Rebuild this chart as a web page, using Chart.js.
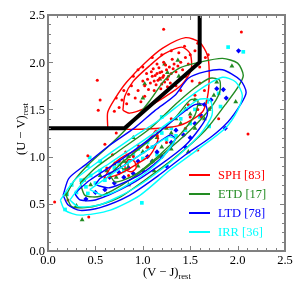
<!DOCTYPE html>
<html>
<head>
<meta charset="utf-8">
<script src="https://cdn.jsdelivr.net/npm/chart.js@4.4.0/dist/chart.umd.min.js"></script>
<style>
  body { margin: 0; background: #fff; }
  canvas { display: block; }
</style>
</head>
<body>
<canvas id="uvj" width="300" height="300"></canvas>
<script>
// Axis ticks
const tickValues = [0.0, 0.5, 1.0, 1.5, 2.0, 2.5];
const tickLabels = ['0.0', '0.5', '1.0', '1.5', '2.0', '2.5'];

// UVJ quiescent selection boundary
const uvjBoundary = [[0, 1.3], [0.807, 1.3], [1.6, 2.0], [1.6, 2.5]];

// Legend
const classNames = ['SPH [83]', 'ETD [17]', 'LTD [78]', 'IRR [36]'];
const classColors = ['#ff0000', '#228b22', '#0000ff', '#00ffff'];

// Points (V-J, U-V)
const sphPoints = [
  [1.10,1.85],[1.12,1.80],[1.15,1.88],[1.18,1.83],[1.20,1.90],[1.22,1.86],[1.25,1.92],[1.14,1.76],
  [1.08,1.78],[1.05,1.82],[1.17,1.94],[1.23,1.79],[1.27,1.85],[1.30,1.88],[1.19,1.72],[1.12,1.70],
  [1.09,1.90],[1.24,1.97],[1.28,1.95],[1.32,1.93],[1.16,1.81],[1.21,1.84],[1.13,1.86],[1.26,1.82],
  [1.02,1.75],[1.06,1.71],[1.15,1.98],[1.35,1.90],[1.33,1.98],[1.29,1.78],[1.11,1.93],[1.18,1.89],
  [1.00,1.80],[1.04,1.88],[1.20,1.77],[1.37,1.96],[1.40,2.00],[1.31,2.03],[1.22,2.00],[1.26,1.74],
  [0.95,1.70],[0.92,1.62],[0.98,1.58],[1.02,1.64],[0.88,1.75],[0.90,1.85],[0.85,1.66],[0.83,1.56],
  [0.78,1.60],[0.80,1.70],[0.75,1.52],[0.70,1.48],[0.72,1.62],[1.42,1.92],[1.45,2.05],[1.48,1.98],
  [1.50,2.08],[1.38,2.10],[1.30,2.12],[1.20,2.08],[1.55,2.12],[1.10,2.05],[1.00,1.95],[0.95,1.92],
  [1.35,1.75],[1.45,1.85],[1.40,1.70],[1.52,1.80],[1.60,1.78],[1.65,1.70],[1.55,1.65],[1.48,1.55],
  [1.58,1.50],[1.62,1.42],[1.50,1.42],[1.45,1.30],[1.60,1.95],[1.66,2.05],[1.69,2.08],[1.58,2.20],
  [1.44,2.17],[0.52,1.81],[0.55,1.60],[0.53,1.49],[0.60,1.13],[0.72,1.25],[1.22,2.35],[2.04,2.32],
  [2.11,1.24],[0.07,0.52],[0.21,0.54],[0.43,0.36],[0.42,1.01],[1.58,1.07],[0.68,1.30],[0.82,1.05],
  [0.90,1.00],[0.95,1.12],[1.05,1.10],[1.15,1.22],[0.75,0.95],[0.62,0.88],[0.85,0.80],[1.30,1.40],
  [1.25,1.15],[0.68,1.02],[1.72,1.52],[1.80,1.40]
];
const etdPoints = [
  [0.36,0.33],[0.19,0.60],[0.38,0.75],[0.30,0.48],[0.45,0.70],[0.55,0.80],[0.62,0.85],[0.70,0.92],
  [0.72,0.78],[0.80,0.95],[0.85,1.00],[0.95,0.90],[1.00,1.05],[1.05,1.10],[1.10,0.95],[1.15,1.20],
  [1.20,1.10],[1.25,1.30],[1.30,1.25],[1.35,1.40],[1.40,1.35],[1.45,1.50],[1.50,1.45],[1.55,1.60],
  [1.60,1.55],[1.65,1.40],[1.78,1.79],[1.94,1.96],[1.98,1.58],[1.75,1.65],[1.23,1.98],[1.18,1.82],
  [1.38,1.85],[1.02,1.77],[0.90,1.20],[1.55,1.30],[1.48,1.05],[0.62,0.60],[0.85,0.70],[1.12,0.85],
  [1.30,1.08],[1.70,1.50],[1.00,1.62],[1.37,2.02],[1.26,1.89]
];
const ltdPoints = [
  [2.01,2.12],[1.85,1.71],[1.88,1.62],[1.87,1.30],[1.61,1.44],[1.43,1.23],[1.45,1.10],[1.30,1.15],
  [1.20,1.00],[1.10,0.95],[1.00,0.85],[0.90,0.82],[0.80,0.78],[0.70,0.72],[0.60,0.65],[0.50,0.62],
  [0.40,0.55],[1.55,1.35],[1.65,1.55],[1.72,1.60],[1.35,1.28],[1.15,1.05],[0.95,0.95],[0.85,0.88],
  [0.75,0.83],[1.25,0.90],[1.50,1.20],[0.65,0.78],[1.05,1.00],[1.78,1.72]
];
const irrPoints = [
  [1.90,2.16],[2.06,2.11],[0.18,0.44],[0.99,0.51],[1.80,1.67],[1.82,1.53],[1.70,1.32],[0.20,0.60],
  [0.30,0.62],[0.40,0.68],[0.45,0.80],[0.50,0.72],[0.55,0.85],[0.60,0.75],[0.65,0.82],[0.70,0.88],
  [0.75,0.92],[0.80,0.85],[0.85,0.95],[0.90,1.02],[0.95,1.08],[1.00,0.98],[1.05,1.15],[1.10,1.10],
  [1.15,1.02],[1.20,1.25],[1.25,1.18],[1.30,1.30],[1.35,1.22],[1.40,1.40],[1.50,1.35],[1.55,1.50],
  [1.60,1.42],[1.68,1.58],[0.42,0.90],[0.35,0.75],[0.55,0.95],[1.45,1.28],[0.25,0.70],[1.20,1.42],
  [0.44,0.99],[0.42,0.61]
];

// Density contours (closed loops)
const sphContours = [
  [[0.63,1.31],[0.63,1.47],[0.71,1.62],[0.83,1.79],[1.02,1.99],[1.21,2.15],[1.45,2.26],[1.60,2.21],
   [1.68,2.08],[1.70,1.92],[1.69,1.68],[1.64,1.49],[1.55,1.41],[1.39,1.33],[1.18,1.30],[0.97,1.29],
   [0.76,1.29],[0.65,1.30]],
  [[0.79,1.49],[0.81,1.64],[0.90,1.80],[1.08,1.97],[1.23,2.09],[1.41,2.16],[1.50,2.09],[1.51,1.92],
   [1.41,1.76],[1.23,1.63],[1.02,1.51],[0.86,1.46]],
  [[0.59,0.77],[0.68,0.91],[0.81,1.01],[0.97,1.09],[1.08,1.20],[1.14,1.28],[1.16,1.18],[1.08,1.02],
   [0.92,0.91],[0.74,0.81]],
  [[0.81,0.91],[0.85,0.97],[0.91,0.95],[0.93,0.88],[0.88,0.84],[0.82,0.86]]
];
const etdContours = [
  [[0.19,0.59],[0.25,0.47],[0.39,0.46],[0.55,0.49],[0.76,0.57],[1.02,0.75],[1.34,0.99],[1.66,1.28],
   [1.87,1.55],[2.00,1.73],[2.06,1.86],[2.00,1.99],[1.84,2.04],[1.60,2.00],[1.39,1.94],[1.23,1.81],
   [1.08,1.60],[0.86,1.33],[0.65,1.12],[0.44,0.93],[0.28,0.75]],
  [[0.34,0.72],[0.39,0.59],[0.55,0.58],[0.86,0.75],[1.18,1.00],[1.50,1.28],[1.71,1.51],[1.81,1.68],
   [1.81,1.81],[1.71,1.83],[1.55,1.73],[1.34,1.55],[1.08,1.30],[0.76,1.07],[0.50,0.88]],
  [[0.65,0.81],[0.71,0.73],[0.92,0.81],[1.18,1.02],[1.39,1.23],[1.55,1.44],[1.58,1.60],[1.50,1.60],
   [1.34,1.41],[1.08,1.18],[0.81,0.96]],
  [[0.76,0.91],[0.79,0.95],[0.84,0.93],[0.84,0.88],[0.79,0.87]]
];
const ltdContours = [
  [[0.16,0.59],[0.21,0.49],[0.34,0.43],[0.55,0.46],[0.86,0.59],[1.18,0.81],[1.45,1.02],[1.71,1.20],
   [1.90,1.37],[2.03,1.55],[2.09,1.68],[2.03,1.81],[1.84,1.92],[1.66,1.90],[1.48,1.83],[1.34,1.65],
   [1.13,1.49],[0.92,1.31],[0.65,1.12],[0.39,0.91],[0.22,0.77]],
  [[0.28,0.61],[0.34,0.54],[0.50,0.54],[0.86,0.70],[1.18,0.91],[1.45,1.12],[1.60,1.30],[1.68,1.44],
   [1.66,1.55],[1.55,1.55],[1.39,1.44],[1.13,1.23],[0.76,0.96],[0.44,0.75]],
  [[0.50,0.70],[0.65,0.67],[0.97,0.81],[1.23,1.02],[1.34,1.18],[1.29,1.23],[1.08,1.09],[0.76,0.88],
   [0.55,0.77]]
];
const irrContours = [
  [[0.13,0.54],[0.18,0.43],[0.34,0.38],[0.65,0.43],[0.97,0.59],[1.29,0.86],[1.60,1.09],[1.87,1.30],
   [2.00,1.49],[2.05,1.65],[1.98,1.79],[1.84,1.84],[1.66,1.75],[1.45,1.60],[1.18,1.39],[0.86,1.18],
   [0.55,0.96],[0.28,0.75]],
  [[0.23,0.54],[0.32,0.47],[0.55,0.49],[0.92,0.67],[1.29,0.94],[1.60,1.23],[1.73,1.44],[1.71,1.60],
   [1.58,1.60],[1.34,1.41],[1.02,1.18],[0.65,0.93],[0.39,0.75]],
  [[0.44,0.65],[0.60,0.59],[0.92,0.75],[1.18,0.96],[1.34,1.18],[1.27,1.21],[1.02,1.05],[0.71,0.84]]
];

function toXY(list) {
  return list.map(p => ({ x: p[0], y: p[1] }));
}

function closedLoop(list) {
  return toXY(list.concat([list[0]]));
}

function contourSets(loops, color, order) {
  return loops.map(loop => ({
    data: closedLoop(loop),
    showLine: true,
    borderColor: color,
    borderWidth: 1.4,
    pointRadius: 0,
    tension: 0.25,
    fill: false,
    order: order
  }));
}

function pointSet(list, color, style, radius, order) {
  return {
    data: toXY(list),
    showLine: false,
    pointStyle: style,
    pointRadius: radius,
    backgroundColor: color,
    borderColor: color,
    borderWidth: 0,
    order: order
  };
}

const datasets = [
  {
    data: toXY(uvjBoundary),
    showLine: true,
    borderColor: '#000',
    borderWidth: 4,
    pointRadius: 0,
    tension: 0,
    order: 0
  },
  ...contourSets(irrContours, classColors[3], 1),
  ...contourSets(ltdContours, classColors[2], 1),
  ...contourSets(etdContours, classColors[1], 1),
  ...contourSets(sphContours, classColors[0], 1),
  pointSet(sphPoints, classColors[0], 'circle', 1.5, 2),
  pointSet(etdPoints, classColors[1], 'triangle', 2.8, 3),
  pointSet(ltdPoints, classColors[2], 'rectRot', 2.6, 4),
  pointSet(irrPoints, classColors[3], 'rect', 2.6, 5)
];

const serif = '"Liberation Serif", "DejaVu Serif", serif';

// Frame, inward ticks, tick labels, axis titles and legend
const framePlugin = {
  id: 'frame',
  afterDraw(chart) {
    const ctx = chart.ctx;
    const area = chart.chartArea;
    const xs = chart.scales.x;
    const ys = chart.scales.y;
    ctx.save();

    // minor and major ticks on all four sides
    ctx.strokeStyle = '#808080';
    ctx.lineWidth = 1;
    for (let i = 0; i <= 25; i++) {
      const v = i / 10;
      const len = i % 5 === 0 ? 5 : 3;
      const px = Math.round(xs.getPixelForValue(v)) + 0.5;
      const py = Math.round(ys.getPixelForValue(v)) + 0.5;
      ctx.beginPath();
      ctx.moveTo(px, area.bottom); ctx.lineTo(px, area.bottom - len);
      ctx.moveTo(px, area.top); ctx.lineTo(px, area.top + len);
      ctx.moveTo(area.left, py); ctx.lineTo(area.left + len, py);
      ctx.moveTo(area.right, py); ctx.lineTo(area.right - len, py);
      ctx.stroke();
    }
    ctx.lineWidth = 2;
    ctx.strokeRect(area.left, area.top, area.right - area.left, area.bottom - area.top);

    // tick labels
    ctx.fillStyle = '#000';
    ctx.font = '12.5px ' + serif;
    ctx.textBaseline = 'alphabetic';
    tickValues.forEach((v, i) => {
      ctx.textAlign = 'center';
      ctx.fillText(tickLabels[i], xs.getPixelForValue(v), area.bottom + 13);
      ctx.textAlign = 'right';
      ctx.fillText(tickLabels[i], area.left - 3, ys.getPixelForValue(v) + 4.3);
    });

    // axis titles with subscript
    ctx.textAlign = 'left';
    ctx.font = '12.5px ' + serif;
    const xMain = '(V \u2212 J)';
    ctx.fillText(xMain, 143, 276);
    const xw = ctx.measureText(xMain).width;
    ctx.font = '8.5px ' + serif;
    ctx.fillText('rest', 143 + xw, 279);

    ctx.save();
    ctx.translate(25, 155);
    ctx.rotate(-Math.PI / 2);
    ctx.font = '12.5px ' + serif;
    const yMain = '(U \u2212 V)';
    ctx.fillText(yMain, 0, 0);
    const yw = ctx.measureText(yMain).width;
    ctx.font = '8.5px ' + serif;
    ctx.fillText('rest', yw, 3);
    ctx.restore();

    // legend
    const rows = [175, 194, 213, 232];
    ctx.font = '12.5px ' + serif;
    ctx.textBaseline = 'middle';
    classNames.forEach((name, i) => {
      ctx.strokeStyle = classColors[i];
      ctx.lineWidth = 2;
      ctx.beginPath();
      ctx.moveTo(189, rows[i]);
      ctx.lineTo(210, rows[i]);
      ctx.stroke();
      ctx.fillStyle = classColors[i];
      ctx.fillText(name, 218, rows[i] + 0.5);
    });
    ctx.restore();
  }
};

new Chart(document.getElementById('uvj'), {
  type: 'scatter',
  data: { datasets: datasets },
  options: {
    responsive: false,
    animation: false,
    layout: { padding: { left: 48, right: 15, top: 15, bottom: 49 } },
    plugins: { legend: { display: false }, tooltip: { enabled: false } },
    scales: {
      x: { type: 'linear', min: 0, max: 2.5, display: false },
      y: { type: 'linear', min: 0, max: 2.5, display: false }
    }
  },
  plugins: [framePlugin]
});
</script>
</body>
</html>
